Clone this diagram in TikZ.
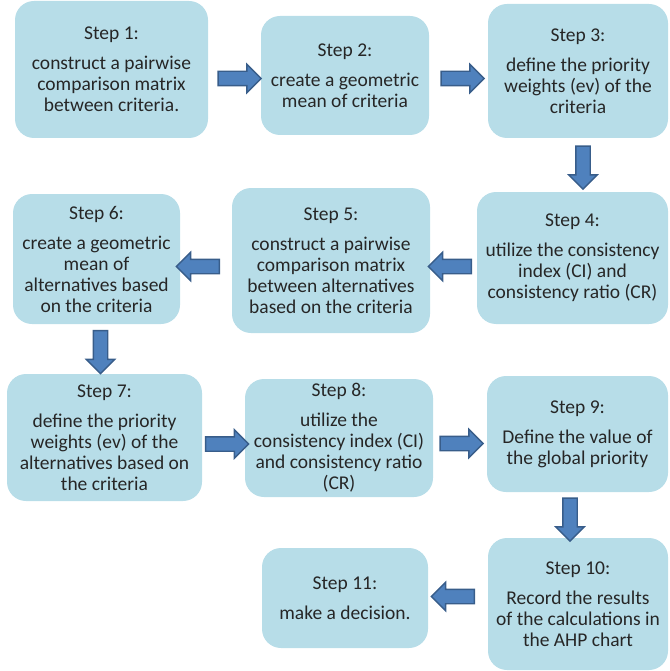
\documentclass[tikz,border=0pt]{standalone}
\usepackage{fontspec}
\setmainfont{Carlito}
\usetikzlibrary{shapes.arrows}
\definecolor{boxfill}{HTML}{B7DDE8}
\definecolor{arrfill}{HTML}{4F81BD}
\definecolor{arrline}{HTML}{385D8A}
\definecolor{txt}{HTML}{262626}
\tikzset{
  stepbox/.style={rectangle, rounded corners=19pt, fill=boxfill, draw=none,
    align=center, text=txt, font=\fontsize{19.5}{21}\selectfont, inner sep=2pt},
  barrow/.style={single arrow, draw=arrline, fill=arrfill, line width=1.4pt,
    inner sep=6.5pt, minimum width=27pt, minimum height=43pt,
    single arrow head extend=7pt},
}
\newcommand{\stp}[1]{#1\\[9pt]}
\begin{document}
\begin{tikzpicture}[x=1pt,y=-1pt]
\useasboundingbox (0,0) rectangle (669,671);
% boxes (x1,y1)-(x2,y2)
\node[stepbox, minimum width=193pt, minimum height=137pt] (s1) at (111.5,69.5)
  {\stp{Step 1:}construct a pairwise\\comparison matrix\\between criteria.};
\node[stepbox, minimum width=168pt, minimum height=119pt] (s2) at (345,75.5)
  {\stp{Step 2:}create a geometric\\mean of criteria};
\node[stepbox, minimum width=180pt, minimum height=134pt] (s3) at (578,71)
  {\stp{Step 3:}define the priority\\weights (ev) of the\\criteria};
\node[stepbox, minimum width=191pt, minimum height=132pt] (s4) at (572.5,258)
  {\stp{Step 4:}utilize the consistency\\index (CI) and\\consistency ratio (CR)};
\node[stepbox, minimum width=198pt, minimum height=145pt] (s5) at (331,260.5)
  {\stp{Step 5:}construct a pairwise\\comparison matrix\\between alternatives\\based on the criteria};
\node[stepbox, minimum width=167pt, minimum height=130pt] (s6) at (96.5,259)
  {\stp{Step 6:}create a geometric\\mean of\\alternatives based\\on the criteria};
\node[stepbox, minimum width=195pt, minimum height=127pt] (s7) at (104.5,437.5)
  {\stp{Step 7:}define the priority\\weights (ev) of the\\alternatives based on\\the criteria};
\node[stepbox, minimum width=188pt, minimum height=118pt] (s8) at (339,438)
  {\stp{Step 8:}utilize the\\consistency index (CI)\\and consistency ratio\\(CR)};
\node[stepbox, minimum width=181pt, minimum height=116pt] (s9) at (577.5,434)
  {\stp{Step 9:}Define the value of\\the global priority};
\node[stepbox, minimum width=180pt, minimum height=132pt] (s10) at (578,604)
  {\stp{Step 10:}Record the results\\of the calculations in\\the AHP chart};
\node[stepbox, minimum width=166pt, minimum height=100pt] (s11) at (345,598)
  {\stp{Step 11:}make a decision.};
% block arrows
\node[barrow] (a1) at (236,78.5) {};
\node[barrow] (a2) at (459,78.5) {};
\node[barrow, rotate=-90] (a3) at (583,164) {};
\node[barrow, rotate=180] (a4) at (453.5,266.5) {};
\node[barrow, rotate=180] (a5) at (201.5,266.5) {};
\node[barrow, rotate=-90] (a6) at (100.5,348.5) {};
\node[barrow] (a7) at (223.5,444) {};
\node[barrow] (a8) at (458,443.5) {};
\node[barrow, rotate=-90] (a9) at (570,516) {};
\node[barrow, rotate=180] (a10) at (456.5,596.5) {};
\end{tikzpicture}
\end{document}
